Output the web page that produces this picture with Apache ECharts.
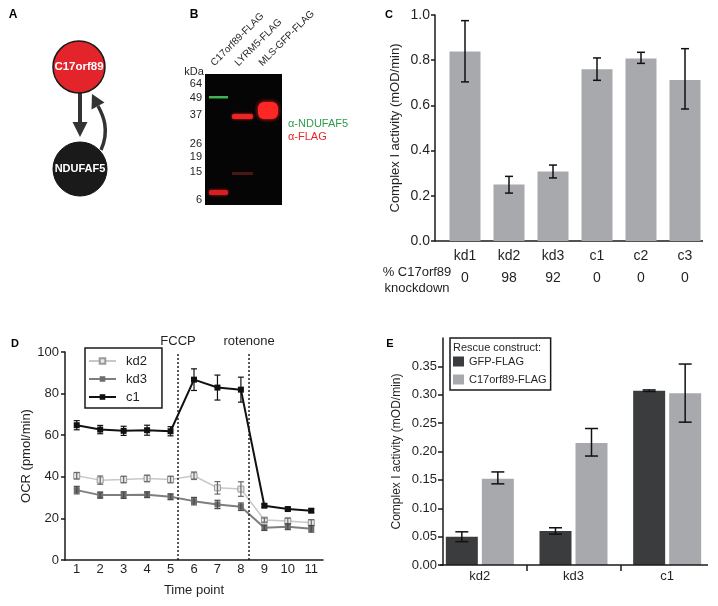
<!DOCTYPE html>
<html><head><meta charset="utf-8">
<script src="https://cdn.jsdelivr.net/npm/echarts@6/dist/echarts.min.js"></script>
<style>html,body{margin:0;padding:0;background:#fff}#c{width:718px;height:606px}</style>
</head><body><div id="c"></div>
<script>
// ---------- Panel C data ----------
const cCategories = ['kd1', 'kd2', 'kd3', 'c1', 'c2', 'c3'];
const cKnockdown = ['0', '98', '92', '0', '0', '0'];
const cActivity = [0.838, 0.250, 0.308, 0.760, 0.807, 0.712];
const cErrLow = [0.704, 0.212, 0.279, 0.711, 0.786, 0.584];
const cErrHigh = [0.975, 0.286, 0.336, 0.810, 0.835, 0.851];

// ---------- Panel D data ----------
const dTimePoints = ['1', '2', '3', '4', '5', '6', '7', '8', '9', '10', '11'];
const dKd2 = [40.5, 38.4, 38.7, 39.2, 38.7, 40.5, 34.7, 34.1, 19.2, 18.7, 17.9];
const dKd2Err = [1.6, 2.0, 1.6, 1.6, 1.6, 1.8, 3.0, 3.5, 1.0, 1.5, 1.5];
const dKd3 = [33.6, 31.2, 31.2, 31.4, 30.4, 28.3, 26.7, 25.6, 15.5, 16.0, 15.0];
const dKd3Err = [1.8, 1.5, 1.6, 1.4, 1.4, 1.8, 2.0, 1.8, 1.3, 1.4, 1.6];
const dC1 = [64.8, 62.7, 62.1, 62.4, 61.9, 86.7, 82.9, 81.9, 26.1, 24.5, 23.7];
const dC1Err = [2.2, 2.0, 2.2, 2.4, 2.2, 5.2, 6.0, 6.0, 0.8, 0.8, 0.8];
const dInjections = ['FCCP', 'rotenone'];
const dInjectionAt = [5.32, 8.35];

// ---------- Panel E data ----------
const eCategories = ['kd2', 'kd3', 'c1'];
const eSeriesNames = ['GFP-FLAG', 'C17orf89-FLAG'];
const eGfp = [0.0497, 0.0597, 0.307];
const eGfpLow = [0.0412, 0.0544, 0.3058];
const eGfpHigh = [0.0585, 0.0656, 0.3085];
const eC17 = [0.152, 0.215, 0.3026];
const eC17Low = [0.143, 0.192, 0.2517];
const eC17High = [0.164, 0.2405, 0.3541];
const eYTicks = [0, 0.05, 0.10, 0.15, 0.20, 0.25, 0.30, 0.35];

// ---------- styling ----------
const FONT = 'Liberation Sans, Arial, sans-serif';
const TXT = '#231f20';
const AX = '#1a1a1a';
const BAR_GRAY = '#a7a9ac';
const BAR_DARK = '#3b3c3e';

function errorBars(offsetPx, capHalf, color, lw) {
  return function (params, api) {
    const i = api.value(0);
    const pLo = api.coord([i, api.value(1)]);
    const pHi = api.coord([i, api.value(2)]);
    const x = pLo[0] + offsetPx;
    const st = { stroke: color, lineWidth: lw };
    return {
      type: 'group', children: [
        { type: 'line', shape: { x1: x, y1: pLo[1], x2: x, y2: pHi[1] }, style: st },
        { type: 'line', shape: { x1: x - capHalf, y1: pLo[1], x2: x + capHalf, y2: pLo[1] }, style: st },
        { type: 'line', shape: { x1: x - capHalf, y1: pHi[1], x2: x + capHalf, y2: pHi[1] }, style: st }
      ]
    };
  };
}
const lohi = (lo, hi) => lo.map((v, i) => [i, v, hi[i]]);
const sym = (m, e) => m.map((v, i) => [i, v - e[i], v + e[i]]);

const eBarW = 32, eGapPx = 4;
const eOff = (eBarW + eGapPx) / 2;

const axisLineStyle = { lineStyle: { color: AX, width: 1.5 } };

const option = {
  animation: false,
  backgroundColor: '#fff',
  textStyle: { fontFamily: FONT, color: TXT },
  grid: [
    { left: 443, top: 15, width: 264, height: 226 },
    { left: 65, top: 352, width: 258, height: 208 },
    { left: 433, top: 338, width: 281, height: 227 }
  ],
  xAxis: [
    { type: 'category', gridIndex: 0, data: cCategories,
      axisLine: { show: false }, axisTick: { show: false },
      axisLabel: { fontSize: 14, color: TXT, margin: 4, lineHeight: 22,
        formatter: (v, i) => v + '\n' + cKnockdown[i] } },
    { type: 'category', gridIndex: 1, data: dTimePoints, boundaryGap: true,
      axisLine: axisLineStyle,
      axisTick: { alignWithLabel: true, inside: true, length: 5, lineStyle: { color: AX, width: 1.5 } },
      axisLabel: { fontSize: 13, color: TXT, margin: 3 },
      name: 'Time point', nameLocation: 'middle', nameGap: 24,
      nameTextStyle: { fontSize: 13, color: TXT } },
    { type: 'value', gridIndex: 1, min: 0.5, max: 11.5, show: false },
    { type: 'category', gridIndex: 2, data: eCategories,
      axisLine: { show: false },
      axisTick: { show: true, length: 6, lineStyle: { color: AX, width: 1.5 }, interval: (i) => i === 1 || i === 2 },
      axisLabel: { fontSize: 13, color: TXT, margin: 5 } }
  ],
  yAxis: [
    { type: 'value', gridIndex: 0, min: 0, max: 1, interval: 0.2, offset: 8,
      axisLine: { show: true, lineStyle: { color: AX, width: 1.5 } },
      axisTick: { show: true, length: 4, lineStyle: { color: AX, width: 1.5 } },
      splitLine: { show: false },
      axisLabel: { fontSize: 14, color: TXT, margin: 5, formatter: v => v.toFixed(1) },
      name: 'Complex I activity (mOD/min)', nameLocation: 'middle', nameGap: 33,
      nameTextStyle: { fontSize: 13, color: TXT } },
    { type: 'value', gridIndex: 1, min: 0, max: 100, interval: 20,
      axisLine: { show: true, lineStyle: { color: AX, width: 1.5 } },
      axisTick: { show: true, length: 4, lineStyle: { color: AX, width: 1.5 } },
      splitLine: { show: false },
      axisLabel: { fontSize: 13, color: TXT, margin: 6 },
      name: 'OCR (pmol/min)', nameLocation: 'middle', nameGap: 21,
      nameTextStyle: { fontSize: 13, color: TXT } },
    { type: 'value', gridIndex: 2, min: 0, max: 0.4, offset: -10,
      axisLine: { show: true, lineStyle: { color: AX, width: 1.5 } },
      axisTick: { show: true, length: 5, customValues: eYTicks, lineStyle: { color: AX, width: 1.5 } },
      splitLine: { show: false },
      axisLabel: { fontSize: 13, color: TXT, margin: 6, customValues: eYTicks, formatter: v => v.toFixed(2) },
      name: 'Complex I activity (mOD/min)', nameLocation: 'middle', nameGap: 40,
      nameTextStyle: { fontSize: 12, color: TXT } }
  ],
  legend: [
    { data: ['kd2', 'kd3', 'c1'], orient: 'vertical', left: 85, top: 348,
      itemWidth: 27, itemHeight: 7, itemGap: 4,
      padding: [6, 15, 4, 3], borderColor: AX, borderWidth: 1.5, backgroundColor: '#fff',
      textStyle: { fontSize: 13, color: TXT, lineHeight: 14, padding: [0, 0, 0, 5] } },
    { data: eSeriesNames, orient: 'vertical', left: 450, top: 338,
      itemWidth: 11, itemHeight: 10, itemGap: 5, icon: 'rect',
      padding: [17, 4, 4, 3], borderColor: AX, borderWidth: 1.5, backgroundColor: '#fff',
      textStyle: { fontSize: 11, color: TXT, lineHeight: 13 } }
  ],
  series: [
    // Panel C
    { type: 'bar', xAxisIndex: 0, yAxisIndex: 0, data: cActivity, barWidth: 31,
      itemStyle: { color: BAR_GRAY } },
    { type: 'custom', xAxisIndex: 0, yAxisIndex: 0, data: lohi(cErrLow, cErrHigh),
      encode: { x: 0, y: [1, 2] }, renderItem: errorBars(0, 4, '#111', 1.5), z: 5 },
    // Panel D
    { name: 'kd2', type: 'line', xAxisIndex: 1, yAxisIndex: 1, data: dKd2,
      symbol: 'rect', symbolSize: 6,
      lineStyle: { color: '#c8c8c8', width: 1.5 },
      itemStyle: { color: '#e8e8e8', borderColor: '#9a9a9a', borderWidth: 1 }, z: 3 },
    { name: 'kd3', type: 'line', xAxisIndex: 1, yAxisIndex: 1, data: dKd3,
      symbol: 'rect', symbolSize: 6,
      lineStyle: { color: '#7e7e7e', width: 2 },
      itemStyle: { color: '#6e6e6e' }, z: 3 },
    { name: 'c1', type: 'line', xAxisIndex: 1, yAxisIndex: 1, data: dC1,
      symbol: 'rect', symbolSize: 6,
      lineStyle: { color: '#111', width: 2 },
      itemStyle: { color: '#111' }, z: 3 },
    { type: 'custom', xAxisIndex: 1, yAxisIndex: 1, data: sym(dKd2, dKd2Err),
      encode: { x: 0, y: [1, 2] }, renderItem: errorBars(0, 3, '#6a6a6a', 1.2), z: 4 },
    { type: 'custom', xAxisIndex: 1, yAxisIndex: 1, data: sym(dKd3, dKd3Err),
      encode: { x: 0, y: [1, 2] }, renderItem: errorBars(0, 3, '#4a4a4a', 1.2), z: 4 },
    { type: 'custom', xAxisIndex: 1, yAxisIndex: 1, data: sym(dC1, dC1Err),
      encode: { x: 0, y: [1, 2] }, renderItem: errorBars(0, 3, '#111', 1.2), z: 4 },
    { type: 'line', xAxisIndex: 2, yAxisIndex: 1, data: [], silent: true,
      markLine: { symbol: ['none', 'none'], silent: true, animation: false,
        lineStyle: { type: [2, 2], color: '#222', width: 1.5 },
        label: { show: true, position: 'end', formatter: p => p.name, color: TXT, fontSize: 13, fontFamily: FONT, distance: 4 },
        data: dInjections.map((n, i) => ({ name: n, xAxis: dInjectionAt[i] })) } },
    // Panel E
    { name: eSeriesNames[0], type: 'bar', xAxisIndex: 3, yAxisIndex: 2, data: eGfp,
      barWidth: eBarW, barGap: (eGapPx / eBarW * 100) + '%', itemStyle: { color: BAR_DARK } },
    { name: eSeriesNames[1], type: 'bar', xAxisIndex: 3, yAxisIndex: 2, data: eC17,
      barWidth: eBarW, barGap: (eGapPx / eBarW * 100) + '%', itemStyle: { color: BAR_GRAY } },
    { type: 'custom', xAxisIndex: 3, yAxisIndex: 2, data: lohi(eGfpLow, eGfpHigh),
      encode: { x: 0, y: [1, 2] }, renderItem: errorBars(-eOff, 6.5, '#111', 1.5), z: 5 },
    { type: 'custom', xAxisIndex: 3, yAxisIndex: 2, data: lohi(eC17Low, eC17High),
      encode: { x: 0, y: [1, 2] }, renderItem: errorBars(eOff, 6.5, '#111', 1.5), z: 5 }
  ],
  graphic: [
    // panel letters
    { type: 'text', x: 13, y: 15, style: { text: 'A', font: 'bold 12px ' + FONT, fill: '#000', align: 'center', verticalAlign: 'middle' } },
    { type: 'text', x: 194, y: 15, style: { text: 'B', font: 'bold 12px ' + FONT, fill: '#000', align: 'center', verticalAlign: 'middle' } },
    { type: 'text', x: 389, y: 15, style: { text: 'C', font: 'bold 11px ' + FONT, fill: '#000', align: 'center', verticalAlign: 'middle' } },
    { type: 'text', x: 15, y: 344, style: { text: 'D', font: 'bold 11px ' + FONT, fill: '#000', align: 'center', verticalAlign: 'middle' } },
    { type: 'text', x: 390, y: 344, style: { text: 'E', font: 'bold 11px ' + FONT, fill: '#000', align: 'center', verticalAlign: 'middle' } },
    // Panel A diagram
    { type: 'line', shape: { x1: 80, y1: 93, x2: 80, y2: 125 }, style: { stroke: '#333', lineWidth: 4 } },
    { type: 'polygon', shape: { points: [[72.5, 122], [87.5, 122], [80, 137]] }, style: { fill: '#333' } },
    { type: 'bezierCurve', shape: { x1: 101, y1: 150, cpx1: 110, cpy1: 130, cpx2: 103, cpy2: 115, x2: 98, y2: 106 },
      style: { stroke: '#333', lineWidth: 3.5, fill: null } },
    { type: 'polygon', shape: { points: [[92, 94], [104.5, 102.5], [91.5, 109.5]] }, style: { fill: '#333' } },
    { type: 'circle', shape: { cx: 79, cy: 67, r: 26 }, style: { fill: '#e3242b', stroke: '#1a1a1a', lineWidth: 1.5 } },
    { type: 'text', x: 79, y: 67, style: { text: 'C17orf89', font: 'bold 11.5px ' + FONT, fill: '#fff', align: 'center', verticalAlign: 'middle' } },
    { type: 'circle', shape: { cx: 80, cy: 169, r: 27 }, style: { fill: '#1a1a1a', stroke: '#111', lineWidth: 1 } },
    { type: 'text', x: 80, y: 169, style: { text: 'NDUFAF5', font: 'bold 11px ' + FONT, fill: '#fff', align: 'center', verticalAlign: 'middle' } },
    // Panel B western blot
    { type: 'rect', shape: { x: 205, y: 74, width: 77, height: 131 }, style: { fill: '#050505' } },
    { type: 'rect', shape: { x: 209, y: 96, width: 19, height: 2.5 }, style: { fill: '#3fb34f' } },
    { type: 'rect', shape: { x: 232, y: 114, width: 21, height: 5, r: 2 }, style: { fill: '#ec2424', shadowBlur: 3, shadowColor: '#ec2424' } },
    { type: 'rect', shape: { x: 258, y: 102, width: 20, height: 17, r: 6 }, style: { fill: '#ff2626', shadowBlur: 4, shadowColor: '#ff2626' } },
    { type: 'rect', shape: { x: 232, y: 172, width: 21, height: 3 }, style: { fill: '#4a1616' } },
    { type: 'rect', shape: { x: 209, y: 190, width: 19, height: 5, r: 2 }, style: { fill: '#d81e1e', shadowBlur: 3, shadowColor: '#d81e1e' } },
    { type: 'text', x: 194, y: 72, style: { text: 'kDa', font: '11px ' + FONT, fill: TXT, align: 'center', verticalAlign: 'middle' } },
    { type: 'text', x: 202, y: 84, style: { text: '64', font: '11px ' + FONT, fill: TXT, align: 'right', verticalAlign: 'middle' } },
    { type: 'text', x: 202, y: 98, style: { text: '49', font: '11px ' + FONT, fill: TXT, align: 'right', verticalAlign: 'middle' } },
    { type: 'text', x: 202, y: 115, style: { text: '37', font: '11px ' + FONT, fill: TXT, align: 'right', verticalAlign: 'middle' } },
    { type: 'text', x: 202, y: 144, style: { text: '26', font: '11px ' + FONT, fill: TXT, align: 'right', verticalAlign: 'middle' } },
    { type: 'text', x: 202, y: 157, style: { text: '19', font: '11px ' + FONT, fill: TXT, align: 'right', verticalAlign: 'middle' } },
    { type: 'text', x: 202, y: 172, style: { text: '15', font: '11px ' + FONT, fill: TXT, align: 'right', verticalAlign: 'middle' } },
    { type: 'text', x: 202, y: 200, style: { text: '6', font: '11px ' + FONT, fill: TXT, align: 'right', verticalAlign: 'middle' } },
    { type: 'text', x: 216, y: 68, rotation: Math.PI / 4, style: { text: 'C17orf89-FLAG', font: '10px ' + FONT, fill: TXT, align: 'left', verticalAlign: 'bottom' } },
    { type: 'text', x: 240, y: 68, rotation: Math.PI / 4, style: { text: 'LYRM5-FLAG', font: '10px ' + FONT, fill: TXT, align: 'left', verticalAlign: 'bottom' } },
    { type: 'text', x: 264, y: 68, rotation: Math.PI / 4, style: { text: 'MLS-GFP-FLAG', font: '10px ' + FONT, fill: TXT, align: 'left', verticalAlign: 'bottom' } },
    { type: 'text', x: 288, y: 124, style: { text: 'α-NDUFAF5', font: '11px ' + FONT, fill: '#2e9e4a', align: 'left', verticalAlign: 'middle' } },
    { type: 'text', x: 288, y: 137, style: { text: 'α-FLAG', font: '11px ' + FONT, fill: '#e8262b', align: 'left', verticalAlign: 'middle' } },
    // Panel C extra
    { type: 'line', shape: { x1: 435, y1: 241, x2: 703, y2: 241 }, style: { stroke: AX, lineWidth: 1.5 } },
    { type: 'text', x: 417, y: 280, style: { text: '% C17orf89\nknockdown', font: '13px ' + FONT, fill: TXT, align: 'center', verticalAlign: 'middle', lineHeight: 16 } },
    // Panel E extra: axis line spans only from the y axis to 708, no end tick
    { type: 'rect', z: 100, shape: { x: 710, y: 562, width: 8, height: 14 }, style: { fill: '#fff' } },
    { type: 'line', z: 101, shape: { x1: 440, y1: 565, x2: 708, y2: 565 }, style: { stroke: AX, lineWidth: 1.5 } },
    { type: 'text', x: 453, y: 348, z: 100, style: { text: 'Rescue construct:', font: '11px ' + FONT, fill: TXT, align: 'left', verticalAlign: 'middle' } }
  ]
};

const chart = echarts.init(document.getElementById('c'), null, { renderer: 'canvas' });
chart.setOption(option);
</script>
</body></html>
